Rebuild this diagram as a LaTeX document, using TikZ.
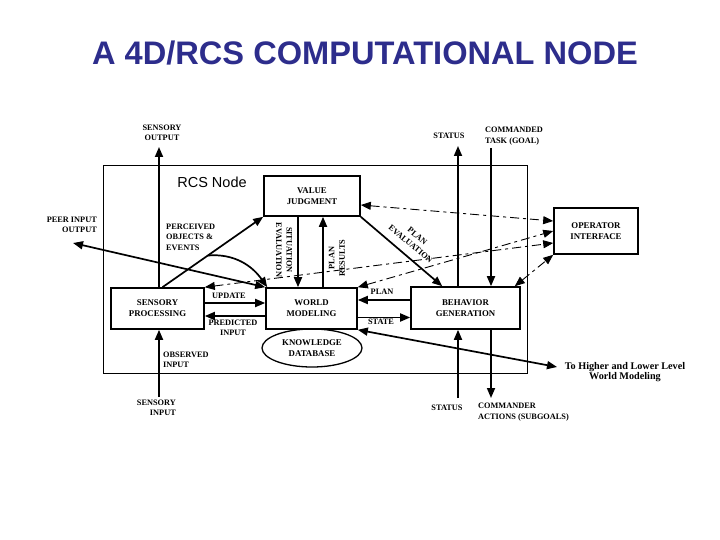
\documentclass[tikz,border=0pt]{standalone}
\usepackage{fontspec}
\setmainfont{Liberation Serif}
\newfontfamily\headfont{Liberation Sans}
\usetikzlibrary{arrows.meta, positioning, calc, shapes.geometric}
\definecolor{titleblue}{RGB}{45,45,140}
\newcommand{\lblfont}{\bfseries\fontsize{8.3}{10.5}\selectfont}
\newcommand{\boxfont}{\bfseries\fontsize{8.8}{11}\selectfont}
\tikzset{
  block/.style={draw, line width=1.6pt, align=center, font=\boxfont, inner sep=0pt},
  lbl/.style={font=\lblfont, align=center, inner sep=0pt},
  flow/.style={->, line width=1.7pt},
  link/.style={<->, line width=0.9pt, dash pattern=on 9pt off 4pt on 3pt off 4pt},
}

\begin{document}
\begin{tikzpicture}[x=1pt, y=-1pt, >={Triangle[length=10pt,width=8pt]}]
    \useasboundingbox (0,0) rectangle (720,540);
    % Title
    \node[font=\headfont\bfseries\fontsize{32.6}{36}\selectfont, text=titleblue] (title) at (365,53) {A 4D/RCS COMPUTATIONAL NODE};
    % Frame of the RCS node
    \draw[line width=1pt] (103,166) rectangle (527,373);
    \node[font=\headfont\fontsize{14.5}{16}\selectfont] (rcs) at (212,182) {RCS Node};
    % Modules
    \node[block, minimum width=96pt, minimum height=40pt] (vj) at (312,196) {VALUE\\JUDGMENT};
    \node[block, minimum width=93pt, minimum height=41pt] (sp) at (157.5,308.5) {SENSORY\\PROCESSING};
    \node[block, minimum width=91pt, minimum height=41pt] (wm) at (311.5,308.5) {WORLD\\MODELING};
    \node[block, minimum width=109pt, minimum height=42pt] (bg) at (465.5,308) {BEHAVIOR\\GENERATION};
    \node[block, minimum width=84pt, minimum height=46pt] (oi) at (596,231) {OPERATOR\\INTERFACE};
    \node[block, ellipse, line width=1.3pt, minimum width=100pt, minimum height=38pt] (kd) at (312,348) {KNOWLEDGE\\DATABASE};
    % Free ends
    \coordinate (sout) at (159,147);
    \coordinate (sin) at (159,397);
    \coordinate (peer) at (73,243);
    \coordinate (stt) at (458,146);
    \coordinate (ctask) at (491,148);
    \coordinate (stb) at (458,398);
    \coordinate (cact) at (491,398);
    \coordinate (hlw) at (557,367);
    \coordinate (arcst) at ($([xshift=5pt]sp.north)!0.45!(vj.south west)$);
    % Sensory side
    \draw[flow] (sp.north -| sout) -- (sout);
    \draw[flow] (sin) -- (sin |- sp.south);
    \draw[flow, <->] (peer) -- (wm.north west);
    \draw[flow] ([xshift=5pt]sp.north) -- (vj.south west);
    \draw[flow] (arcst) to[out=5, in=125] ([xshift=2pt]wm.north west);
    \draw[flow] ([yshift=5.5pt]sp.east) -- ([yshift=5.5pt]sp.east -| wm.west);
    \draw[flow] ([yshift=-7.5pt]wm.west) -- ([yshift=-7.5pt]wm.west -| sp.east);
    % Value judgment links
    \draw[flow] ([xshift=-14pt]vj.south) -- ([xshift=-14pt]vj.south |- wm.north);
    \draw[flow] ([xshift=11.5pt]wm.north) -- ([xshift=11.5pt]wm.north |- vj.south);
    \draw[flow] (vj.south east) -- ([xshift=32pt]bg.north west);
    % Behavior generation
    \draw[flow] (stt |- bg.north) -- (stt);
    \draw[flow] (ctask) -- (ctask |- bg.north);
    \draw[flow] ([yshift=8pt]bg.west) -- ([yshift=8pt]bg.west -| wm.east);
    \draw[flow] ([yshift=-9pt]wm.east) -- ([yshift=-9pt]wm.east -| bg.west);
    \draw[flow] (stb) -- (stb |- bg.south);
    \draw[flow] (cact |- bg.south) -- (cact);
    \draw[flow, <->] (wm.south east) -- (hlw);
    % Operator interface links
    \draw[link] ([yshift=-9pt]vj.east) -- ([yshift=10pt]oi.west);
    \draw[link] (wm.north east) -- (oi.west);
    \draw[link] (sp.north east) -- ([yshift=-12pt]oi.west);
    \draw[link] ([xshift=-6pt]bg.north east) -- (oi.south west);
    % Labels
    \node[lbl] (soutlbl) at (162,133) {SENSORY\\OUTPUT};
    \node[lbl, align=right, anchor=east] (peerlbl) at (97,225) {PEER INPUT\\OUTPUT};
    \node[lbl, align=left, anchor=west] (perclbl) at (166,237) {PERCEIVED\\OBJECTS \&\\EVENTS};
    \node[lbl] (updlbl) at (229,296) {UPDATE};
    \node[lbl] (predlbl) at (233,328) {PREDICTED\\INPUT};
    \node[lbl, align=left, anchor=west] (obslbl) at (163,360) {OBSERVED\\INPUT};
    \node[lbl, align=right, anchor=east] (sinlbl) at (176,408) {SENSORY\\INPUT};
    \node[lbl, rotate=-90] (sitlbl) at (284,250) {SITUATION\\EVALUATION};
    \node[lbl, rotate=90] (reslbl) at (337,258) {PLAN\\RESULTS};
    \node[lbl, rotate=-40] (evallbl) at (414,240) {PLAN\\EVALUATION};
    \node[lbl] (sttlbl) at (449,136) {STATUS};
    \node[lbl, align=left, anchor=west] (tasklbl) at (485,136) {COMMANDED\\TASK (GOAL)};
    \node[lbl] (planlbl) at (382,292) {PLAN};
    \node[lbl] (statelbl) at (381,322) {STATE};
    \node[lbl] (stblbl) at (447,408) {STATUS};
    \node[lbl, align=left, anchor=west] (actlbl) at (478,412) {COMMANDER\\ACTIONS (SUBGOALS)};
    \node[lbl, font=\bfseries\fontsize{10.2}{10.5}\selectfont] (hlwlbl) at (625,372) {To Higher and Lower Level\\World Modeling};
\end{tikzpicture}
\end{document}
